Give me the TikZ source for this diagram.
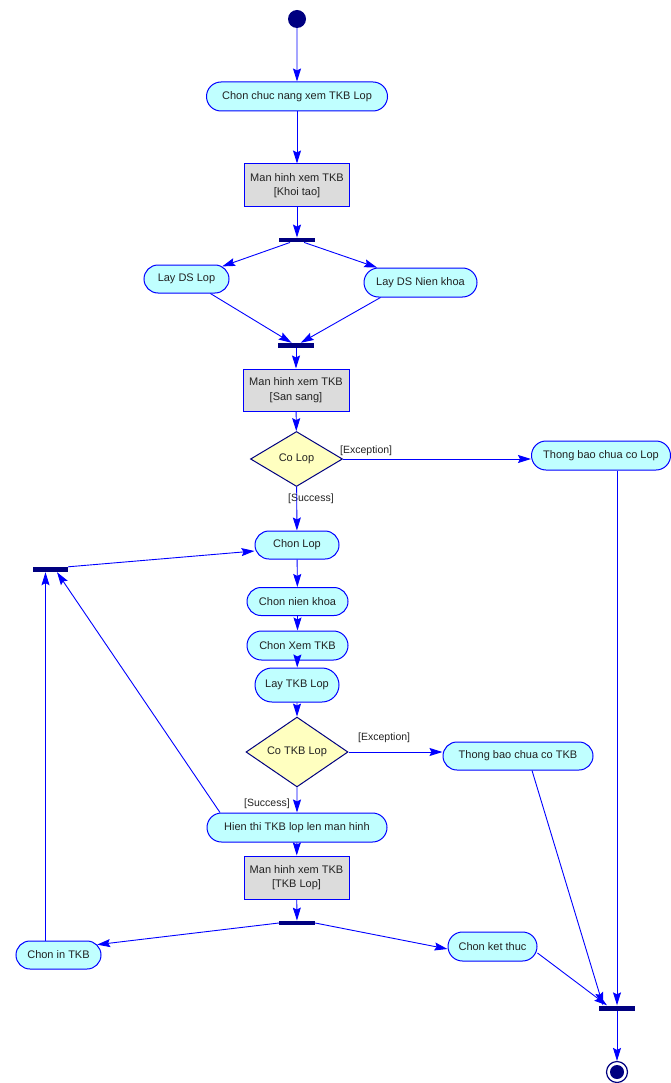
\documentclass[tikz,border=0pt]{standalone}
\usepackage{fontspec}
\setmainfont{Liberation Sans}
\usetikzlibrary{shapes.misc,shapes.geometric,arrows.meta}
\definecolor{actfill}{HTML}{C0FFFF}
\definecolor{lineblue}{HTML}{0000FF}
\definecolor{navy}{HTML}{000080}
\definecolor{screenfill}{HTML}{DCDCDC}
\definecolor{decfill}{HTML}{FFFFC0}
\definecolor{txt}{HTML}{222222}
\begin{document}
\begin{tikzpicture}[x=1pt,y=-1pt,
  every node/.style={font=\fontsize{11}{14.5}\selectfont, text=txt},
  act/.style={rounded rectangle, draw=lineblue, fill=actfill, line width=1pt,
              inner sep=0pt, minimum height=29pt},
  screen/.style={rectangle, draw=lineblue, fill=screenfill, line width=1pt,
                 inner sep=0pt, align=center, minimum width=105pt, minimum height=43pt},
  decision/.style={diamond, draw=navy, fill=decfill, line width=1pt, inner sep=0pt},
  bar/.style={rectangle, fill=navy, inner sep=0pt, minimum width=36pt, minimum height=4.5pt},
  flow/.style={draw=lineblue, line width=0.9pt,
               -{Stealth[length=13pt,width=8pt,inset=2pt]}},
  guard/.style={font=\fontsize{10.5}{12}\selectfont, inner sep=0pt}
]
\path[use as bounding box] (0,0) rectangle (671,1083);

% activities, screens, decisions and bars
\node[circle, fill=navy, inner sep=0pt, minimum size=18pt] (start) at (297,19) {};
\node[act, minimum width=181pt] (pick) at (297,96.5) {Chon chuc nang xem TKB Lop};
\node[screen] (init) at (297,185.5) {Man hinh xem TKB\\{}[Khoi tao]};
\node[bar] (fork1) at (297,240) {};
\node[act, minimum width=85pt, minimum height=28pt] (getcls) at (186.5,279) {Lay DS Lop};
\node[act, minimum width=113pt] (getyear) at (420.5,282.5) {Lay DS Nien khoa};
\node[bar, minimum height=5pt] (join1) at (296,345.5) {};
\node[screen, minimum width=106pt, minimum height=42pt] (ready) at (296,390) {Man hinh xem TKB\\{}[San sang]};
\node[decision, minimum width=92pt, minimum height=55pt] (hascls) at (296.5,459) {Co Lop};
\node[act, minimum width=139pt] (nocls) at (601,455.5) {Thong bao chua co Lop};
\node[act, minimum width=84pt, minimum height=28pt] (selcls) at (297,545) {Chon Lop};
\node[bar, minimum width=35pt, minimum height=5pt] (merge) at (50.5,569.5) {};
\node[act, minimum width=101pt, minimum height=28pt] (selyear) at (297.5,601.5) {Chon nien khoa};
\node[act, minimum width=101pt] (view) at (297.5,645.5) {Chon Xem TKB};
\node[act, minimum width=84pt, minimum height=34pt] (gettkb) at (297,685) {Lay TKB Lop};
\node[decision, minimum width=102pt, minimum height=55pt] (hastkb) at (297,752) {Co TKB Lop};
\node[act, minimum width=150pt, minimum height=28pt] (notkb) at (518,756) {Thong bao chua co TKB};
\node[act, minimum width=180pt] (show) at (297,827.5) {Hien thi TKB lop len man hinh};
\node[screen] (shown) at (296.5,877.5) {Man hinh xem TKB\\{}[TKB Lop]};
\node[bar] (fork2) at (297,923) {};
\node[act, minimum width=85pt, minimum height=28pt] (print) at (58.5,955) {Chon in TKB};
\node[act, minimum width=89pt] (finish) at (492.5,946.5) {Chon ket thuc};
\node[bar, minimum height=5pt] (join2) at (617,1008) {};
\node[circle, draw=navy, fill=white, line width=1.2pt, inner sep=0pt, minimum size=21pt] (stop) at (617,1072) {};
\fill[navy] (stop.center) circle (7pt);

% guard labels
\node[guard, anchor=west] (exc1) at (340,451) {[Exception]};
\node[guard, anchor=west] (ok1) at (288,499) {[Success]};
\node[guard, anchor=west] (exc2) at (358,737.5) {[Exception]};
\node[guard, anchor=west] (ok2) at (244,803.5) {[Success]};

% transitions
\draw[flow] (start) -- (pick);
\draw[flow] (pick) -- (init);
\draw[flow] (init) -- (fork1);
\draw[flow] (fork1) -- (getcls);
\draw[flow] (fork1) -- (getyear);
\draw[flow] (getcls) -- (join1);
\draw[flow] ([xshift=-40pt]getyear.south) -- (join1);
\draw[flow] (join1) -- (ready);
\draw[flow] (ready) -- (hascls);
\draw[flow] (hascls.east) -- (hascls.east -| nocls.west);
\draw[flow] (hascls) -- (selcls);
\draw[flow] (merge.north east) -- ([yshift=-6pt]selcls.west);
\draw[flow] (selcls) -- (selyear);
\draw[flow] (selyear) -- (view);
\draw[flow] (view) -- (gettkb);
\draw[flow] (gettkb) -- (hastkb);
\draw[flow] (hastkb.east) -- (hastkb.east -| notkb.west);
\draw[flow] (hastkb) -- (show);
\draw[flow] (show) -- (shown);
\draw[flow] ([xshift=-77pt]show.north) -- ([xshift=6.5pt]merge.south);
\coordinate (mergeL) at ([xshift=-5pt]merge.south);
\draw[flow] (print.north -| mergeL) -- (mergeL);
\draw[flow] (shown) -- (fork2);
\draw[flow] (fork2.west) -- (print.15);
\draw[flow] (fork2.east) -- ([yshift=-2.5pt]finish.west);
\draw[flow] ([xshift=14pt]notkb.south) -- ([xshift=-14pt]join2.north);
\draw[flow] ([yshift=-6.5pt]finish.east) -- ([xshift=-10pt]join2.north);
\draw[flow] (nocls.south -| join2.north) -- (join2.north);
\draw[flow] (join2) -- (stop);
\end{tikzpicture}
\end{document}
